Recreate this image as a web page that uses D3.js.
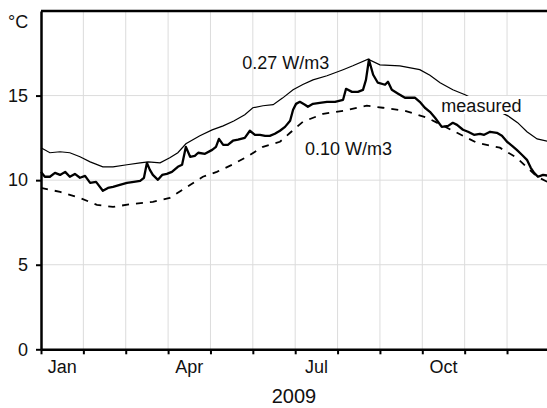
<!DOCTYPE html>
<html>
<head>
<meta charset="utf-8">
<script src="https://cdn.jsdelivr.net/npm/d3@7"></script>
<style>
    html, body { margin: 0; padding: 0; background: #fff; }
    text { font-family: 'Liberation Sans', Arial, sans-serif; fill: #111; }
</style>
</head>
<body>
<div id="chart-div"></div>
<script>
// x is in months from 1 Jan 2009 (0..12), y in degC
const monthTicks = [0, 1, 2, 3, 4, 5, 6, 7, 8, 9, 10, 11, 12];
const monthLabels = [
    { m: 0.5, label: 'Jan' },
    { m: 3.5, label: 'Apr' },
    { m: 6.5, label: 'Jul' },
    { m: 9.5, label: 'Oct' }
];
const yTicks = [0, 5, 10, 15];
const yearLabel = '2009';
const unitLabel = '°C';

// 0.27 W/m3 model (thin line)
const highSeries = [
    [0, 11.91], [0.21, 11.62], [0.45, 11.68], [0.68, 11.62], [0.92, 11.38],
    [1.16, 11.08], [1.46, 10.79], [1.70, 10.79], [2.03, 10.91], [2.34, 11.02],
    [2.53, 11.08], [2.81, 11.02], [3.04, 11.32], [3.23, 11.62], [3.42, 12.15],
    [3.75, 12.62], [4.04, 12.97], [4.30, 13.21], [4.55, 13.50], [4.81, 13.87],
    [5.00, 14.28], [5.24, 14.40], [5.48, 14.46], [5.70, 14.85], [5.95, 15.34],
    [6.18, 15.65], [6.42, 15.93], [6.75, 16.17], [7.13, 16.53], [7.36, 16.76],
    [7.72, 17.15], [8.00, 16.82], [8.47, 16.76], [8.94, 16.53], [9.18, 16.20],
    [9.42, 15.76], [9.72, 15.34], [10.01, 15.05], [10.50, 14.45], [11.02, 13.80],
    [11.25, 13.40], [11.47, 12.86], [11.71, 12.44], [12.0, 12.27]
];

// measured (thick line)
const measuredSeries = [
    [0, 10.49], [0.09, 10.20], [0.21, 10.20], [0.33, 10.43], [0.45, 10.31],
    [0.57, 10.49], [0.68, 10.20], [0.80, 10.37], [0.92, 10.14], [1.04, 10.25],
    [1.16, 9.84], [1.30, 9.90], [1.46, 9.37], [1.58, 9.54], [1.70, 9.60],
    [1.86, 9.72], [2.03, 9.84], [2.19, 9.90], [2.34, 9.96], [2.43, 10.14],
    [2.50, 11.02], [2.57, 10.61], [2.64, 10.31], [2.76, 10.02], [2.86, 10.31],
    [2.97, 10.37], [3.09, 10.49], [3.23, 10.79], [3.33, 10.91], [3.42, 11.97],
    [3.52, 11.38], [3.63, 11.44], [3.71, 11.62], [3.87, 11.56], [4.04, 11.79],
    [4.13, 11.97], [4.20, 12.44], [4.30, 12.09], [4.41, 12.09], [4.53, 12.33],
    [4.65, 12.39], [4.81, 12.50], [4.93, 12.92], [5.05, 12.68], [5.17, 12.68],
    [5.29, 12.62], [5.40, 12.62], [5.52, 12.74], [5.64, 12.92], [5.76, 13.15],
    [5.88, 13.51], [5.95, 14.16], [6.02, 14.51], [6.11, 14.63], [6.23, 14.46],
    [6.30, 14.34], [6.42, 14.51], [6.58, 14.57], [6.75, 14.63], [6.94, 14.63],
    [7.13, 14.75], [7.20, 15.40], [7.34, 15.22], [7.48, 15.22], [7.60, 15.34],
    [7.67, 15.93], [7.74, 17.12], [7.84, 16.23], [7.95, 15.76], [8.12, 15.64],
    [8.19, 15.82], [8.28, 15.34], [8.43, 15.11], [8.59, 14.87], [8.83, 14.87],
    [8.94, 14.63], [9.06, 14.28], [9.18, 14.04], [9.30, 13.69], [9.46, 13.15],
    [9.61, 13.21], [9.72, 13.39], [9.82, 13.27], [9.96, 12.98], [10.08, 12.86],
    [10.22, 12.68], [10.36, 12.74], [10.46, 12.68], [10.60, 12.86], [10.76, 12.80],
    [10.88, 12.62], [11.00, 12.27], [11.12, 12.03], [11.23, 11.79], [11.35, 11.50],
    [11.47, 11.20], [11.56, 10.73], [11.64, 10.43], [11.73, 10.20], [11.85, 10.31],
    [12.0, 10.25]
];

// 0.10 W/m3 model (dashed line)
const lowSeries = [
    [0, 9.54], [0.21, 9.43], [0.45, 9.31], [0.68, 9.13], [0.92, 8.95],
    [1.32, 8.54], [1.70, 8.42], [2.17, 8.60], [2.64, 8.72], [3.04, 8.95],
    [3.45, 9.60], [3.82, 10.20], [4.15, 10.49], [4.51, 10.91], [4.86, 11.38],
    [5.24, 11.97], [5.64, 12.27], [5.88, 12.80], [6.18, 13.45], [6.66, 13.92],
    [7.13, 14.10], [7.69, 14.40], [8.07, 14.28], [8.59, 14.10], [9.11, 13.69],
    [9.82, 12.80], [10.29, 12.21], [10.83, 11.92], [11.23, 11.32], [11.71, 10.20],
    [12.0, 9.84]
];

const seriesLabels = [
    { text: '0.27 W/m3', m: 4.75, v: 16.6, mask: false },
    { text: '0.10 W/m3', m: 6.23, v: 11.5, mask: false },
    { text: 'measured', m: 9.45, v: 14.03, mask: true }
];

window.Vis = window.Vis || {};

Vis.init = function() {
    Vis.setup.initConsts();
    Vis.setup.initGraph();
    Vis.core.drawGrid();
    Vis.core.drawAxes();
    Vis.core.drawLines();
    Vis.core.drawLabels();
};

Vis.setup = {
    initConsts: function() {
        Vis.width = 547;
        Vis.height = 408;

        Vis.left = 41;
        Vis.right = 549.4; // plot runs slightly past the window edge
        Vis.top = 11;
        Vis.bottom = 349.3;

        Vis.fontSize = 18;
    },

    initGraph: function() {
        Vis.svg = d3.select('#chart-div')
                    .append('svg')
                     .attr('width', Vis.width)
                     .attr('height', Vis.height);

        Vis.x = d3.scaleLinear()
                  .domain([0, 12])
                  .range([Vis.left, Vis.right]);
        Vis.y = d3.scaleLinear()
                  .domain([0, 20])
                  .range([Vis.bottom, Vis.top]);
    }
};

Vis.core = {
    drawGrid: function() {
        let g = Vis.svg.append('g').attr('stroke', '#dcdcdc').attr('stroke-width', 1);

        g.selectAll('.vgrid')
         .data(monthTicks.slice(1))
         .enter().append('line')
          .attr('x1', d => Vis.x(d)).attr('x2', d => Vis.x(d))
          .attr('y1', Vis.top).attr('y2', Vis.bottom);

        g.selectAll('.hgrid')
         .data(yTicks.slice(1))
         .enter().append('line')
          .attr('x1', Vis.left).attr('x2', Vis.right)
          .attr('y1', d => Vis.y(d)).attr('y2', d => Vis.y(d));
    },

    drawAxes: function() {
        let xAxis = d3.axisBottom(Vis.x)
                      .tickValues(monthTicks)
                      .tickSize(5)
                      .tickSizeOuter(0)
                      .tickFormat('');
        let yAxis = d3.axisLeft(Vis.y)
                      .tickValues(yTicks)
                      .tickSize(5)
                      .tickSizeOuter(0)
                      .tickPadding(8);

        let gx = Vis.svg.append('g')
                        .attr('transform', 'translate(0,' + Vis.bottom + ')')
                        .call(xAxis);
        let gy = Vis.svg.append('g')
                        .attr('transform', 'translate(' + Vis.left + ',0)')
                        .call(yAxis);

        [gx, gy].forEach(function(g) {
            g.select('.domain').attr('stroke', '#000').attr('stroke-width', 2.5);
            g.selectAll('.tick line').attr('stroke', '#000').attr('stroke-width', 2);
            g.selectAll('.tick text')
             .attr('font-size', Vis.fontSize)
             .attr('font-family', "'Liberation Sans', Arial, sans-serif")
             .attr('fill', '#111');
        });

        // top frame line
        Vis.svg.append('line')
               .attr('x1', Vis.left).attr('x2', Vis.right)
               .attr('y1', Vis.top).attr('y2', Vis.top)
               .attr('stroke', '#000').attr('stroke-width', 2.5);

        // month names centred between ticks
        Vis.svg.selectAll('.month')
               .data(monthLabels)
               .enter().append('text')
                .attr('x', d => Vis.x(d.m))
                .attr('y', 373)
                .attr('text-anchor', 'middle')
                .attr('font-size', Vis.fontSize)
                .text(d => d.label);

        Vis.svg.append('text')
               .attr('x', 294).attr('y', 403)
               .attr('text-anchor', 'middle')
               .attr('font-size', 20)
               .text(yearLabel);

        Vis.svg.append('text')
               .attr('x', 8).attr('y', 28)
               .attr('font-size', Vis.fontSize)
               .text(unitLabel);
    },

    drawLines: function() {
        let line = d3.line()
                     .x(d => Vis.x(d[0]))
                     .y(d => Vis.y(d[1]));

        Vis.svg.append('path')
               .datum(highSeries)
               .attr('d', line)
               .attr('fill', 'none')
               .attr('stroke', '#000')
               .attr('stroke-width', 1.2);

        Vis.svg.append('path')
               .datum(lowSeries)
               .attr('d', line)
               .attr('fill', 'none')
               .attr('stroke', '#000')
               .attr('stroke-width', 1.8)
               .attr('stroke-dasharray', '7,7');

        Vis.svg.append('path')
               .datum(measuredSeries)
               .attr('d', line)
               .attr('fill', 'none')
               .attr('stroke', '#000')
               .attr('stroke-width', 2.3)
               .attr('stroke-linejoin', 'round');
    },

    drawLabels: function() {
        seriesLabels.forEach(function(d) {
            let t = Vis.svg.append('text')
                           .attr('x', Vis.x(d.m))
                           .attr('y', Vis.y(d.v))
                           .attr('font-size', Vis.fontSize)
                           .text(d.text);
            if (d.mask) {
                let b = t.node().getBBox();
                Vis.svg.insert('rect', function() { return t.node(); })
                       .attr('x', b.x - 3).attr('y', b.y)
                       .attr('width', b.width + 6).attr('height', b.height - 2)
                       .attr('fill', '#fff');
            }
        });
    }
};

document.addEventListener('DOMContentLoaded', Vis.init);
</script>
</body>
</html>
